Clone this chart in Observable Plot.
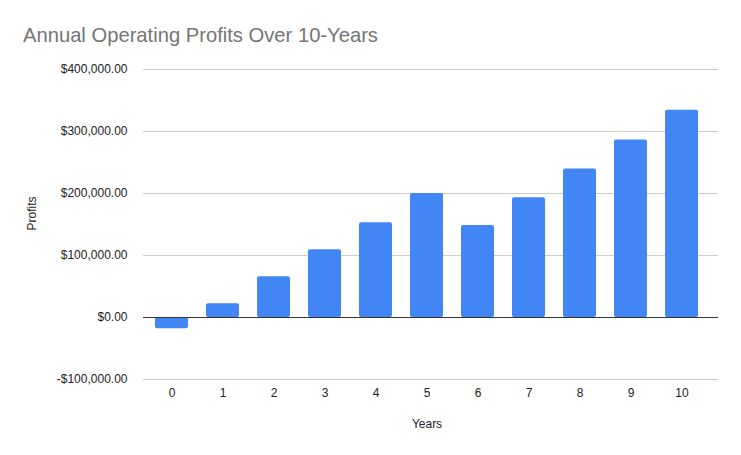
<!DOCTYPE html>
<html>
<head>
<meta charset="utf-8">
<script src="https://cdn.jsdelivr.net/npm/d3@7"></script>
<script src="https://cdn.jsdelivr.net/npm/@observablehq/plot@0.6"></script>
<style>
  html, body { margin: 0; padding: 0; background: #fff; }
  body { width: 741px; height: 455px; overflow: hidden; font-family: "Liberation Sans", Arial, sans-serif; }
  #title { box-sizing: border-box; height: 55px; padding: 23px 0 0 23px; font-size: 20.2px; line-height: 24px; color: #757575; }
</style>
</head>
<body>
<div id="title">Annual Operating Profits Over 10-Years</div>
<div id="chart"></div>
<script>
const years = [0, 1, 2, 3, 4, 5, 6, 7, 8, 9, 10];
const profits = [-18000, 22000, 65600, 109200, 152700, 199800, 148200, 193100, 239600, 286200, 334400];
const yTicks = [-100000, 0, 100000, 200000, 300000, 400000];

const data = years.map((y, i) => ({year: y, profit: profits[i]}));
const money = v => (v < 0 ? "-" : "") + "$" + d3.format(",.2f")(Math.abs(v));

const chart = Plot.plot({
  width: 741,
  height: 400,
  marginTop: 14,
  marginBottom: 76,
  marginLeft: 143,
  marginRight: 23,
  style: {fontFamily: "'Liberation Sans', Arial, sans-serif", fontSize: "12px", color: "#222"},
  x: {domain: years, range: [143.5, 708.5], paddingInner: 0.358, paddingOuter: 0.179},
  y: {domain: [-100000, 400000]},
  marks: [
    Plot.gridY(yTicks.filter(d => d !== 0), {stroke: "#cccccc", strokeOpacity: 1, strokeWidth: 1}),
    Plot.barY(data, {x: "year", y: "profit", fill: "#4285F4", rx: 2}),
    Plot.ruleY([0], {stroke: "#333333", strokeWidth: 1}),
    Plot.axisY({ticks: yTicks, tickFormat: money, tickSize: 0, tickPadding: 16, label: null, fill: "#222"}),
    Plot.text(["Profits"], {frameAnchor: "left", rotate: -90, dx: -111, dy: 6, fill: "#222"}),
    Plot.axisX({tickSize: 0, tickPadding: 9, label: null, fill: "#222"}),
    Plot.text(["Years"], {frameAnchor: "bottom", lineAnchor: "middle", dx: -4, dy: 45, fill: "#222"})
  ]
});
document.getElementById("chart").appendChild(chart);
</script>
</body>
</html>
